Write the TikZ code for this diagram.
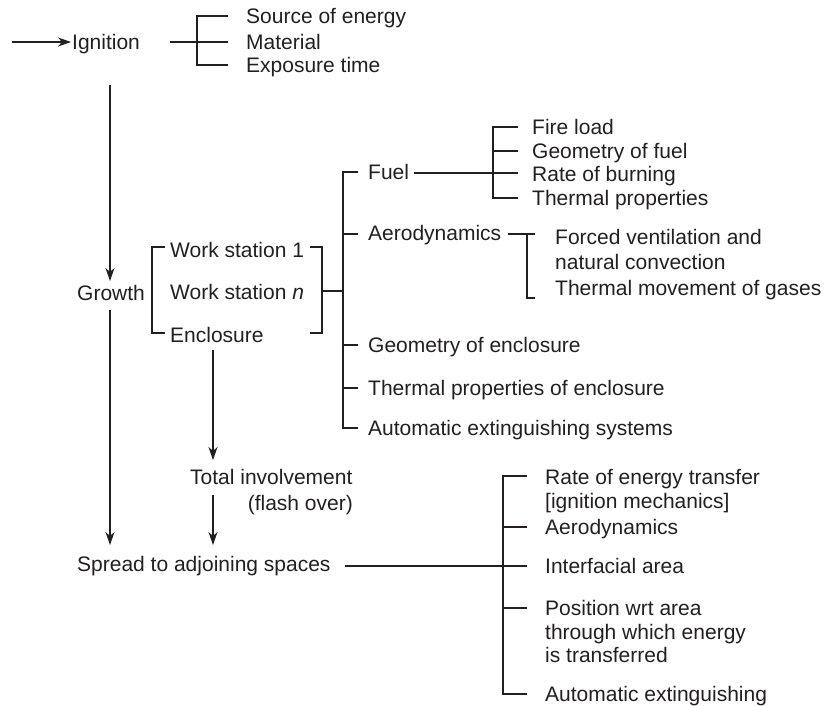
\documentclass[tikz,border=0pt]{standalone}
\usepackage{fontspec}
\setmainfont{Liberation Sans}
\usetikzlibrary{arrows.meta}
\definecolor{ink}{HTML}{231F20}
\begin{document}
\begin{tikzpicture}[x=1pt,y=-1pt,
  txt/.style={anchor=base west,inner sep=0pt,yshift=-7.5pt,font=\fontsize{21}{24}\selectfont,text=ink},
  txtr/.style={txt,anchor=base east},
  ln/.style={draw=ink,line width=1.1pt},
  arr/.style={ln,-{Stealth[length=13pt,width=9pt,inset=4pt]}}]
\useasboundingbox (0,0) rectangle (831,706);
% texts
\node[txt] (ign) at (72,42) {Ignition};
\node[txt] (src) at (246,16) {Source of energy};
\node[txt] (mat) at (246,42) {Material};
\node[txt] (exp) at (246,65) {Exposure time};
\node[txt] (gro) at (77,293) {Growth};
\node[txt] (ws1) at (170,250) {Work station 1};
\node[txt] (wsn) at (170,292) {Work station \textit{n}};
\node[txt] (enc) at (170,335) {Enclosure};
\node[txt] (fuel) at (368,172) {Fuel};
\node[txt] (aero) at (368,233) {Aerodynamics};
\node[txt] (geo) at (368,345) {Geometry of enclosure};
\node[txt] (tpe) at (368,388) {Thermal properties of enclosure};
\node[txt] (aes) at (368,428) {Automatic extinguishing systems};
\node[txt] (fl) at (532,127) {Fire load};
\node[txt] (gf) at (532,151) {Geometry of fuel};
\node[txt] (rb) at (532,174) {Rate of burning};
\node[txt] (tp) at (532,198) {Thermal properties};
\node[txt] (fv1) at (555,237) {Forced ventilation and};
\node[txt] (fv2) at (555,262) {natural convection};
\node[txt] (tm) at (555,288) {Thermal movement of gases};
\node[txt] (ti1) at (190,477) {Total involvement};
\node[txtr] (ti2) at (353,503) {(flash over)};
\node[txt] (spr) at (77,564) {Spread to adjoining spaces};
\node[txt] (re1) at (545,477) {Rate of energy transfer};
\node[txt] (re2) at (545,501) {[ignition mechanics]};
\node[txt] (aer2) at (545,527) {Aerodynamics};
\node[txt] (ifa) at (545,566) {Interfacial area};
\node[txt] (pos1) at (545,608) {Position wrt area};
\node[txt] (pos2) at (545,632) {through which energy};
\node[txt] (pos3) at (545,655) {is transferred};
\node[txt] (ae) at (545,694) {Automatic extinguishing};
% ignition
\coordinate (start) at (12,42);
\draw[arr] (start) -- ([xshift=-1pt]ign.west |- start);
\draw[ln] (170,42) -- (228,42);
\draw[ln] (228,16) -- (197,16) -- (197,65) -- (228,65);
% main vertical arrows
\draw[arr] (110,85) -- (110,281);
\draw[arr] (110,310) -- (110,545);
% work station brackets
\draw[ln] (165,247) -- (152,247) -- (152,333) -- (165,333);
\draw[ln] (310,247) -- (322,247) -- (322,333) -- (310,333);
\draw[ln] (322,291) -- (343,291);
% big bracket
\draw[ln] (358,172) -- (343,172) -- (343,428) -- (358,428);
\draw[ln] (343,234) -- (358,234);
\draw[ln] (343,345) -- (358,345);
\draw[ln] (343,388) -- (358,388);
% fuel
\draw[ln] (414,173) -- (518,173);
\draw[ln] (518,127) -- (493,127) -- (493,198) -- (518,198);
\draw[ln] (493,151) -- (518,151);
% aerodynamics
\draw[ln] (508,234) -- (535,234);
\draw[ln] (527,234) -- (527,298) -- (535,298);
% enclosure arrows
\draw[arr] (213,350) -- (213,460);
\draw[arr] (213,495) -- (213,545);
% spread
\draw[ln] (345,566) -- (527,566);
\draw[ln] (527,476) -- (503,476) -- (503,694) -- (527,694);
\draw[ln] (503,527) -- (527,527);
\draw[ln] (503,608) -- (527,608);
\end{tikzpicture}
\end{document}
